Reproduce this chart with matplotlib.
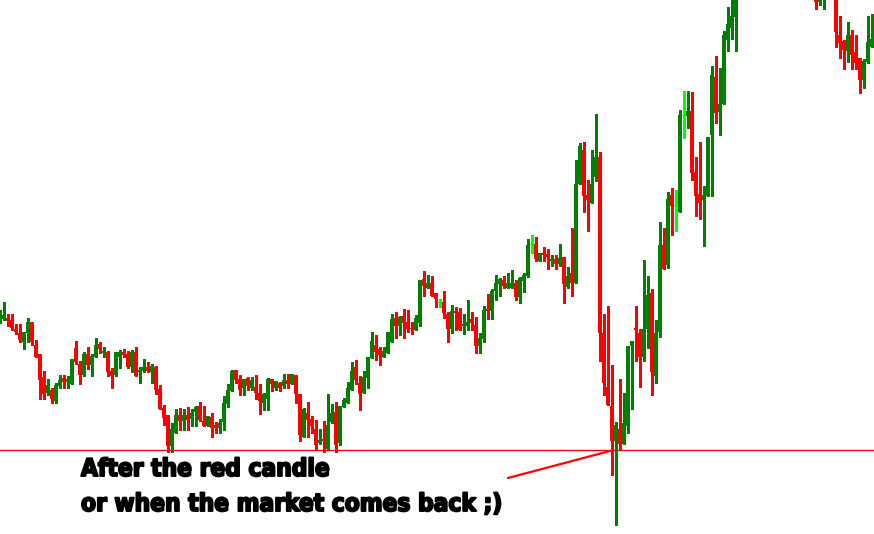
import matplotlib
matplotlib.use("Agg")
import matplotlib.pyplot as plt
import matplotlib.patheffects as pe
import numpy as np

# candle values (screen units, smaller = higher price)
opens = [318, 319, 318, 320, 329, 333, 342, 333, 322, 345, 354, 377, 393, 390, 401, 386, 378, 382, 384, 348,
         364, 375, 354, 365, 357, 344, 353, 352, 371, 375, 357, 352, 354, 367, 352, 372, 371, 367, 372, 367,
         389, 408, 415, 446, 433, 415, 421, 415, 419, 412, 406, 421, 426, 417, 425, 428, 422, 404, 391, 370,
         379, 388, 378, 388, 387, 393, 403, 399, 379, 388, 383, 386, 380, 384, 375, 394, 437, 413, 419, 429,
         443, 439, 449, 422, 412, 443, 407, 403, 390, 367, 383, 393, 378, 358, 345, 349, 357, 353, 342, 318,
         326, 316, 322, 328, 330, 323, 279, 288, 283, 293, 302, 302, 314, 329, 311, 312, 326, 326, 319, 325,
         346, 339, 309, 311, 291, 284, 280, 288, 288, 283, 297, 281, 276, 244, 244, 261, 253, 254, 261, 259,
         264, 257, 287, 273, 283, 184, 150, 195, 203, 177, 157, 333, 387, 406, 441, 429, 444, 426, 346, 328,
         333, 357, 329, 293, 376, 332, 245, 265, 195, 205, 212, 115, 116, 111, 172, 194, 200, 196, 135, 77,
         112, 104, 40, 28, 17, -8, -26, -44, -34, -58, -72, -60, -85, -70, -92, -80, -66, -84, -70, -52,
         -68, -48, -36, -50, -30, 2, -6, -24, -12, -36, 35, 41, 51, 35, 52, 58, 80, 62, 47]
highs = [310, 302, 314, 314, 324, 324, 332, 318, 322, 340, 354, 371, 379, 388, 383, 375, 375, 376, 359, 341,
         361, 352, 347, 354, 338, 342, 347, 351, 368, 352, 350, 349, 351, 350, 347, 367, 359, 362, 364, 366,
         385, 405, 415, 423, 409, 408, 409, 407, 409, 406, 402, 406, 416, 413, 422, 419, 396, 384, 370, 370,
         375, 379, 377, 377, 375, 384, 393, 378, 379, 381, 382, 374, 374, 374, 375, 394, 408, 402, 416, 420,
         429, 421, 394, 404, 402, 406, 398, 382, 362, 360, 376, 371, 357, 332, 335, 347, 347, 332, 314, 312,
         316, 309, 310, 322, 315, 280, 271, 275, 276, 293, 299, 291, 312, 305, 307, 308, 314, 300, 312, 317,
         333, 306, 294, 289, 275, 278, 276, 273, 270, 280, 277, 273, 239, 235, 237, 253, 247, 249, 255, 255,
         244, 257, 267, 228, 160, 143, 142, 180, 150, 114, 152, 314, 306, 365, 422, 379, 393, 346, 341, 306,
         329, 260, 276, 289, 320, 222, 228, 192, 188, 190, 110, 91, 91, 92, 157, 142, 186, 137, 66, 56,
         68, 31, 7, -5, -20, -32, -50, -52, -64, -80, -84, -90, -95, -98, -104, -88, -90, -96, -78, -76,
         -80, -60, -58, -56, -40, -20, -30, -34, -40, -44, 16, 40, 22, 30, 35, 58, 59, 16, 14]
lows = [323, 320, 326, 330, 334, 342, 349, 342, 345, 357, 399, 399, 395, 403, 403, 388, 388, 388, 384, 364,
        384, 376, 369, 376, 357, 353, 357, 376, 388, 376, 368, 357, 368, 372, 376, 383, 372, 372, 383, 394,
        409, 425, 452, 452, 433, 430, 430, 430, 426, 426, 421, 426, 426, 437, 433, 433, 430, 407, 391, 383,
        395, 395, 390, 390, 399, 414, 410, 410, 391, 390, 391, 388, 388, 384, 403, 441, 437, 437, 433, 449,
        444, 452, 449, 423, 452, 445, 407, 403, 390, 384, 410, 393, 388, 358, 360, 365, 357, 353, 342, 338,
        335, 338, 332, 334, 330, 326, 296, 288, 296, 307, 307, 318, 342, 333, 330, 330, 334, 330, 330, 353,
        353, 342, 319, 319, 300, 296, 288, 288, 288, 300, 303, 292, 277, 253, 261, 261, 261, 269, 266, 269,
        266, 303, 288, 296, 283, 184, 212, 231, 203, 181, 361, 395, 405, 475, 525, 449, 444, 433, 409, 361,
        387, 361, 348, 395, 383, 337, 269, 268, 235, 231, 212, 138, 128, 180, 216, 219, 246, 196, 196, 123,
        135, 104, 51, 39, 51, -4, -18, -28, -30, -50, -55, -56, -66, -64, -74, -60, -60, -62, -46, -44,
        -44, -30, -28, -20, 9, 5, 9, -8, -6, 47, 58, 69, 62, 69, 69, 93, 88, 63, 47]
closes = [312, 315, 321, 328, 332, 340, 332, 322, 342, 357, 380, 394, 385, 399, 385, 380, 382, 379, 359, 362,
          375, 354, 365, 356, 345, 349, 351, 372, 376, 352, 352, 355, 367, 352, 376, 370, 367, 371, 366, 390,
          409, 418, 446, 429, 415, 421, 415, 420, 413, 407, 420, 426, 416, 428, 428, 423, 403, 390, 371, 380,
          390, 379, 386, 380, 393, 401, 394, 379, 384, 381, 388, 380, 384, 374, 394, 435, 409, 420, 426, 445,
          440, 441, 425, 413, 445, 406, 400, 388, 371, 380, 394, 377, 357, 341, 352, 355, 351, 332, 319, 326,
          317, 323, 329, 329, 318, 280, 286, 283, 296, 299, 302, 313, 329, 311, 313, 330, 324, 322, 323, 346,
          338, 310, 311, 291, 283, 279, 286, 283, 283, 297, 278, 275, 245, 244, 259, 253, 255, 257, 259, 264,
          258, 284, 276, 283, 184, 146, 196, 200, 184, 157, 333, 383, 405, 441, 425, 444, 423, 346, 341, 330,
          357, 329, 295, 372, 333, 245, 269, 199, 206, 205, 115, 115, 111, 173, 196, 203, 195, 137, 75, 113,
          104, 35, 24, 16, -8, -26, -44, -34, -58, -72, -60, -85, -70, -92, -80, -66, -84, -70, -52, -68,
          -48, -36, -50, -30, 2, -12, -24, -12, -36, 32, 43, 50, 35, 55, 63, 80, 61, 42, 39]

support_level = 450
note_lines = ["After the red candle", "or when the market comes back ;)"]

BULL = "#008000"
BEAR = "#ff0000"
DOJI = "#00ff00"


def candle_colours(o, c):
    cols = []
    for a, b in zip(o, c):
        if b < a:
            cols.append(BULL)
        elif b > a:
            cols.append(BEAR)
        else:
            cols.append(DOJI)
    return cols


def plot_chart():
    o = np.array(opens, dtype=float)
    h = np.array(highs, dtype=float)
    l = np.array(lows, dtype=float)
    c = np.array(closes, dtype=float)
    idx = np.arange(len(o))
    cols = candle_colours(o, c)

    fig = plt.figure(figsize=(8.74, 5.34), dpi=100)
    ax = fig.add_axes([0, 0, 1, 1])
    ax.set_facecolor("white")

    ax.axhline(support_level, color=BEAR, lw=1.0, zorder=1)

    ax.vlines(idx, h, l, colors=cols, lw=0.9, antialiased=False, zorder=2)
    bottom = np.minimum(o, c)
    height = np.abs(o - c)
    flat = height < 1
    bottom[flat] = o[flat] - 0.5
    height[flat] = 1
    ax.bar(idx, height, width=0.8, bottom=bottom, color=cols,
           linewidth=0, antialiased=False, zorder=3)

    # pointer from the note to the low of the big red candle
    ax.annotate("", xy=(152.6, support_level + 1), xytext=(127.1, 478),
                arrowprops=dict(arrowstyle="-", color=BEAR, lw=1.6,
                                shrinkA=0, shrinkB=0))

    ax.set_xlim(0.125, 218.625)
    ax.set_ylim(534, 0)
    ax.axis("off")

    for k, line in enumerate(note_lines):
        fig.text(81 / 874, 1 - (476 + 35 * k) / 534, line, family="DejaVu Sans",
                 fontstretch="condensed", weight="bold", fontsize=17.5,
                 color="black", va="baseline",
                 path_effects=[pe.withStroke(linewidth=1.4, foreground="black")])

    plt.savefig("out.png", dpi=100, facecolor="white")
    plt.close()


if __name__ == '__main__':
    plot_chart()
